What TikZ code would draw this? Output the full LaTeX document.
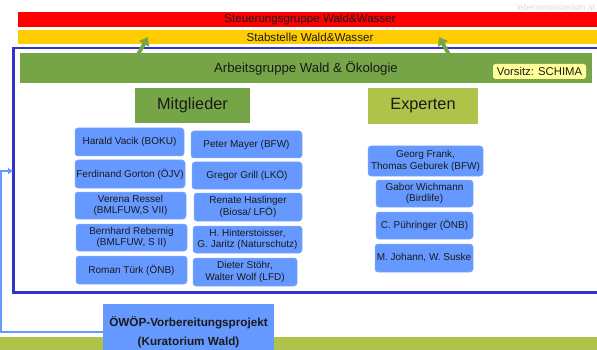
\documentclass[tikz,border=0pt]{standalone}
\usepackage{fontspec}
\setmainfont{Liberation Sans}
\usetikzlibrary{arrows.meta}
\definecolor{barred}{HTML}{FF0000}
\definecolor{baryellow}{HTML}{FFCC00}
\definecolor{agreen}{HTML}{76A547}
\definecolor{olive}{HTML}{AFC34A}
\definecolor{boxblue}{HTML}{6699FF}
\definecolor{framecol}{HTML}{3333CC}
\definecolor{vorsitz}{HTML}{FFFF99}
\definecolor{textdark}{HTML}{1A1A1A}
\tikzset{
  bar/.style={rectangle, inner sep=0pt, text=textdark, font=\fontsize{11.6}{13}\selectfont},
  member/.style={rectangle, rounded corners=3pt, fill=boxblue, draw=boxblue!85!white, line width=0.5pt,
    inner sep=0pt, align=center, text=textdark, font=\fontsize{10}{11.5}\selectfont},
  header/.style={rectangle, inner sep=0pt, text=textdark, font=\fontsize{16.3}{18}\selectfont},
  uparrow/.style={draw=agreen, line width=3.8pt, -{Triangle[width=11pt,length=8pt]}},
  conn/.style={draw=boxblue, line width=1.6pt, -{Triangle[width=6pt,length=5pt]}},
  frameline/.style={draw=framecol, line width=2.2pt},
}
\begin{document}
\begin{tikzpicture}[x=1pt,y=-1pt]
\clip (0,0) rectangle (597,350);
\fill[white] (0,0) rectangle (597,350);

% watermark
\node[text=gray!28, font=\fontsize{8.5}{9}\selectfont] (wm) at (556,7) {lebensministerium.at};

% top bars
\node[bar, fill=barred, minimum width=584pt, minimum height=15pt] (steuer) at (310,19.5) {Steuerungsgruppe Wald\&Wasser};
\node[bar, fill=baryellow, minimum width=584pt, minimum height=14pt] (stab) at (310,37) {Stabstelle Wald\&Wasser};

% outer frame
\coordinate (frTR) at (605,48);
\coordinate (frTL) at (13.5,48);
\coordinate (frBL) at (13.5,292.5);
\coordinate (frBR) at (605,292.5);
\draw[frameline] (frTR) -- (frTL) -- (frBL) -- (frBR);

% Arbeitsgruppe bar
\node[bar, fill=agreen, minimum width=572pt, minimum height=30pt, font=\fontsize{13.2}{15}\selectfont] (ag) at (306,68) {Arbeitsgruppe Wald \& Ökologie};
\node[rectangle, rounded corners=2.5pt, fill=vorsitz, inner sep=0pt, minimum width=93pt, minimum height=15pt,
  text=textdark, font=\fontsize{11.3}{12}\selectfont] (vors) at (539.5,71.5) {Vorsitz: SCHIMA};

% arrows up
\coordinate (a1s) at (136,58);
\coordinate (a1e) at (148,37);
\coordinate (a2s) at (451,58);
\coordinate (a2e) at (439,37);
\draw[uparrow] (a1s) -- (a1e);
\draw[uparrow] (a2s) -- (a2e);

% headers
\node[header, fill=agreen, minimum width=115pt, minimum height=35pt] (mitg) at (192.5,105.5) {Mitglieder};
\node[header, fill=olive, minimum width=110pt, minimum height=36pt] (expt) at (423,106) {Experten};

% members left
\node[member, minimum width=109pt, minimum height=28pt] (harald) at (129.5,142) {Harald Vacik (BOKU)};
\node[member, minimum width=110pt, minimum height=28pt] (ferd) at (130,174) {Ferdinand Gorton (ÖJV)};
\node[member, minimum width=111pt, minimum height=27pt] (verena) at (130.5,205.5) {Verena Ressel\\(BMLFUW,S VII)};
\node[member, minimum width=111pt, minimum height=27pt] (bernh) at (131.5,237.5) {Bernhard Rebernig\\(BMLFUW, S II)};
\node[member, minimum width=111pt, minimum height=28pt] (roman) at (131.5,270) {Roman Türk (ÖNB)};
% members right
\node[member, minimum width=111pt, minimum height=27pt] (peter) at (246.5,144.5) {Peter Mayer (BFW)};
\node[member, minimum width=110pt, minimum height=27pt] (gregor) at (247,175.5) {Gregor Grill (LKÖ)};
\node[member, minimum width=108pt, minimum height=28pt] (renate) at (248,207) {Renate Haslinger\\(Biosa/ LFÖ)};
\node[member, minimum width=109pt, minimum height=27pt] (hinter) at (247.5,239.5) {H. Hinterstoisser,\\G. Jaritz (Naturschutz)};
\node[member, minimum width=104pt, minimum height=28pt] (dieter) at (245,272) {Dieter Stöhr,\\Walter Wolf (LFD)};

% experts
\node[member, minimum width=115pt, minimum height=30pt] (georg) at (425.5,161) {Georg Frank,\\Thomas Geburek (BFW)};
\node[member, minimum width=97pt, minimum height=27pt] (gabor) at (424.5,193.5) {Gabor Wichmann\\(Birdlife)};
\node[member, minimum width=97pt, minimum height=27pt] (puehr) at (424.5,225.5) {C. Pühringer (ÖNB)};
\node[member, minimum width=98pt, minimum height=28pt] (johann) at (424,258) {M. Johann, W. Suske};

% bottom band
\fill[olive] (0,337) rectangle (597,350);

% OeWOeP box and connector
\node[rectangle, fill=boxblue, inner sep=0pt, minimum width=171pt, minimum height=56pt, align=center,
  text=textdark, font=\bfseries\fontsize{11.7}{19}\selectfont] (owoep) at (188.5,332) {ÖWÖP-Vorbereitungsprojekt\\(Kuratorium Wald)};
\coordinate (cBL) at (1,332);
\coordinate (cEnd) at (13,171);
\draw[conn] (owoep.west) -- (cBL) |- (cEnd);
\end{tikzpicture}
\end{document}
